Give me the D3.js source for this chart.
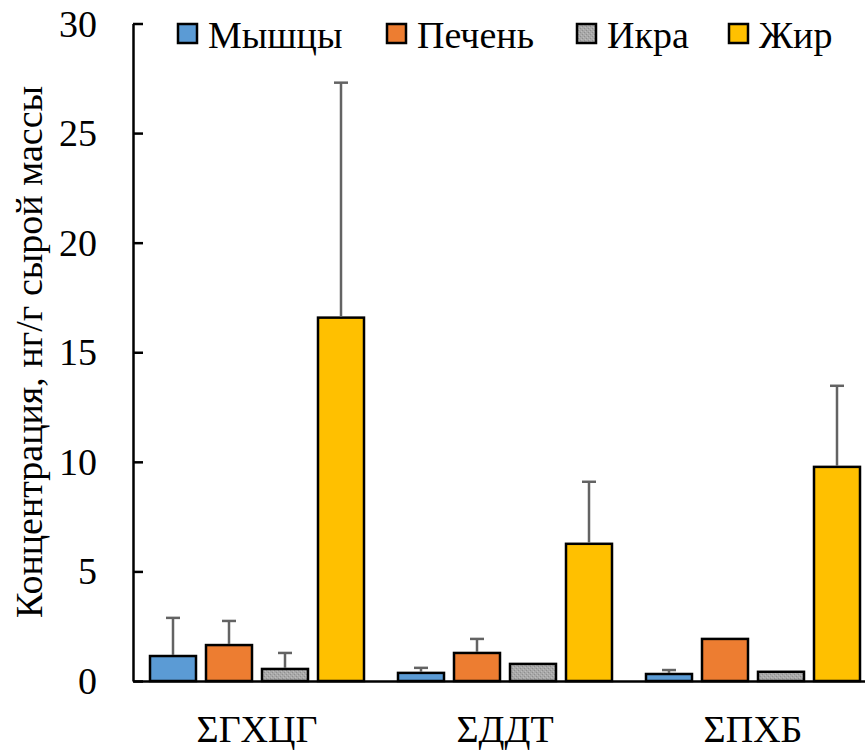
<!DOCTYPE html>
<html><head><meta charset="utf-8">
<script src="https://cdn.jsdelivr.net/npm/d3@7"></script>
<style>body{margin:0;background:#fff}svg{display:block}</style>
</head><body>
<svg id="c" width="865" height="756" font-family="Liberation Serif, Times New Roman, Tinos, serif"></svg>
<script>
const categories = ["ΣГХЦГ", "ΣДДТ", "ΣПХБ"];
const seriesNames = ["Мышцы", "Печень", "Икра", "Жир"];
const muscle = [1.14, 0.37, 0.32];
const liver = [1.64, 1.28, 1.92];
const roe = [0.55, 0.78, 0.42];
const fat = [16.58, 6.26, 9.77];
const muscleErr = [1.74, 0.23, 0.18];
const liverErr = [1.10, 0.64, 0];
const roeErr = [0.73, 0, 0];
const fatErr = [10.72, 2.83, 3.70];
const yTicks = [0, 5, 10, 15, 20, 25, 30];
const colors = ["#5b9bd5", "#ed7d31", "url(#grain)", "#ffc000"];

const values = [muscle, liver, roe, fat];
const errs = [muscleErr, liverErr, roeErr, fatErr];
const FONT = "Liberation Serif, Times New Roman, Tinos, serif";
const FS = 38;

const svg = d3.select("#c");
const defs = svg.append("defs");
const pat = defs.append("pattern").attr("id", "grain").attr("patternUnits", "userSpaceOnUse")
  .attr("width", 4).attr("height", 4);
pat.append("rect").attr("width", 4).attr("height", 4).attr("fill", "#a9a9a9");
pat.append("rect").attr("x", 0).attr("y", 0).attr("width", 1).attr("height", 1).attr("fill", "#8f8f8f");
pat.append("rect").attr("x", 2).attr("y", 2).attr("width", 1).attr("height", 1).attr("fill", "#8f8f8f");
pat.append("rect").attr("x", 1).attr("y", 3).attr("width", 1).attr("height", 1).attr("fill", "#bdbdbd");
pat.append("rect").attr("x", 3).attr("y", 1).attr("width", 1).attr("height", 1).attr("fill", "#bdbdbd");

const mLeft = 133, mBottom = 681, mTop = 23.5;
const x0 = d3.scaleBand().domain(categories).range([mLeft, mLeft + 3 * 248]);
const x1 = d3.scaleBand().domain(seriesNames).range([17, 231]).paddingInner(10 / 56).paddingOuter(0);
const y = d3.scaleLinear().domain([0, 30]).range([mBottom, mTop]);

// bars
const g = svg.append("g");
seriesNames.forEach((s, si) => {
  categories.forEach((c, ci) => {
    const v = values[si][ci];
    const bx = x0(c) + x1(s);
    g.append("rect")
      .attr("x", bx).attr("y", y(v))
      .attr("width", x1.bandwidth()).attr("height", y(0) - y(v))
      .attr("fill", colors[si]).attr("stroke", "#000").attr("stroke-width", 2.5);
    const e = errs[si][ci];
    if (e > 0) {
      const cx = bx + x1.bandwidth() / 2;
      g.append("line").attr("x1", cx).attr("x2", cx).attr("y1", y(v) - 1).attr("y2", y(v + e))
        .attr("stroke", "#636363").attr("stroke-width", 2.5);
      g.append("line").attr("x1", cx - 7).attr("x2", cx + 7).attr("y1", y(v + e)).attr("y2", y(v + e))
        .attr("stroke", "#636363").attr("stroke-width", 2.5);
    }
  });
});

// y axis
const yAxis = d3.axisLeft(y).tickValues(yTicks).tickSizeInner(-10).tickSizeOuter(0).tickPadding(0).tickFormat(d3.format("d"));
const ya = svg.append("g").attr("transform", `translate(${mLeft},0)`).call(yAxis)
  .attr("font-family", FONT).attr("font-size", FS);
ya.select(".domain").attr("stroke", "#000").attr("stroke-width", 2.5);
ya.selectAll(".tick line").attr("stroke", "#000").attr("stroke-width", 2.5);
ya.selectAll(".tick text").attr("x", -36).attr("dy", "0.33em")
  .attr("font-family", FONT).attr("font-size", FS).attr("fill", "#000");

// x axis
const xAxis = d3.axisBottom(x0).tickSize(0).tickPadding(0);
const xa = svg.append("g").attr("transform", `translate(0,${mBottom})`).call(xAxis)
  .attr("font-family", FONT).attr("font-size", FS);
xa.select(".domain").attr("stroke", "#000").attr("stroke-width", 2.5);
xa.selectAll(".tick text").attr("y", 61).attr("dy", 0)
  .attr("font-family", FONT).attr("font-size", FS).attr("fill", "#000");

// y label
svg.append("text").attr("transform", "translate(42,352) rotate(-90)")
  .attr("text-anchor", "middle").attr("font-size", FS).attr("font-family", FONT)
  .text("Концентрация, нг/г сырой массы");

// legend
const legX = [178, 387, 577, 729];
const leg = svg.append("g");
seriesNames.forEach((s, i) => {
  leg.append("rect").attr("x", legX[i]).attr("y", 24).attr("width", 19).attr("height", 19)
    .attr("fill", colors[i]).attr("stroke", "#000").attr("stroke-width", 2.5);
  leg.append("text").attr("x", legX[i] + 30).attr("y", 48).attr("font-size", FS).attr("font-family", FONT).text(s);
});
</script>
</body></html>
